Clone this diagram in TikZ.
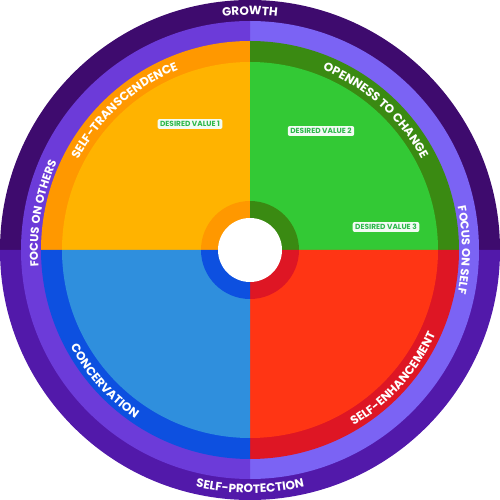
\documentclass[tikz,border=0pt]{standalone}
\usepackage{fontspec}
\setmainfont{Poppins}
\usepackage{tikz}
\usetikzlibrary{positioning,decorations.text}
\usepackage{xcolor}
\definecolor{growthPurple}{HTML}{3E0B6E}
\definecolor{protectPurple}{HTML}{5219AA}
\definecolor{othersViolet}{HTML}{6C3BD9}
\definecolor{selfViolet}{HTML}{7B63F4}
\definecolor{orangeRing}{HTML}{FF9800}
\definecolor{orangeFill}{HTML}{FFB300}
\definecolor{greenRing}{HTML}{3A8A12}
\definecolor{greenFill}{HTML}{33C935}
\definecolor{redRing}{HTML}{DE1624}
\definecolor{redFill}{HTML}{FF3514}
\definecolor{blueRing}{HTML}{0D50E0}
\definecolor{blueFill}{HTML}{2F8FDD}
\definecolor{valueGreen}{HTML}{2DB84B}

\begin{document}
\begin{tikzpicture}[
    x=1pt, y=1pt,
    arcText/.style={decorate, decoration={text along path, text align=center, text color=white,
        text={|\fontsize{12}{12}\selectfont\bfseries|#1}}},
    sideText/.style={decorate, decoration={text along path, text align=center, text color=white,
        text={|\fontsize{11.5}{11.5}\selectfont\bfseries|#1}}},
    valueTag/.style={rectangle, rounded corners=2pt, fill=white!94!valueGreen, text=valueGreen,
        font=\fontsize{7.4}{7.4}\selectfont\bfseries, inner xsep=2.5pt, inner ysep=2.2pt}
]
    \useasboundingbox (-250,-250) rectangle (250,250);

    % outer bands
    \fill[growthPurple]  (0,0) -- (0:250pt)   arc[start angle=0,   end angle=180, radius=250pt] -- cycle;
    \fill[protectPurple] (0,0) -- (180:250pt) arc[start angle=180, end angle=360, radius=250pt] -- cycle;
    \fill[selfViolet]    (0,0) -- (-90:229pt) arc[start angle=-90, end angle=90,  radius=229pt] -- cycle;
    \fill[othersViolet]  (0,0) -- (90:229pt)  arc[start angle=90,  end angle=270, radius=229pt] -- cycle;

    % quadrants
    \fill[orangeRing] (0,0) -- (90:209pt)  arc[start angle=90,  end angle=180, radius=209pt] -- cycle;
    \fill[greenRing]  (0,0) -- (0:209pt)   arc[start angle=0,   end angle=90,  radius=209pt] -- cycle;
    \fill[redRing]    (0,0) -- (270:209pt) arc[start angle=270, end angle=360, radius=209pt] -- cycle;
    \fill[blueRing]   (0,0) -- (180:209pt) arc[start angle=180, end angle=270, radius=209pt] -- cycle;

    \fill[orangeFill] (0,0) -- (90:188pt)  arc[start angle=90,  end angle=180, radius=188pt] -- cycle;
    \fill[greenFill]  (0,0) -- (0:188pt)   arc[start angle=0,   end angle=90,  radius=188pt] -- cycle;
    \fill[redFill]    (0,0) -- (270:188pt) arc[start angle=270, end angle=360, radius=188pt] -- cycle;
    \fill[blueFill]   (0,0) -- (180:188pt) arc[start angle=180, end angle=270, radius=188pt] -- cycle;

    % hub
    \fill[orangeRing] (0,0) -- (90:49pt)  arc[start angle=90,  end angle=180, radius=49pt] -- cycle;
    \fill[greenRing]  (0,0) -- (0:49pt)   arc[start angle=0,   end angle=90,  radius=49pt] -- cycle;
    \fill[redRing]    (0,0) -- (270:49pt) arc[start angle=270, end angle=360, radius=49pt] -- cycle;
    \fill[blueRing]   (0,0) -- (180:49pt) arc[start angle=180, end angle=270, radius=49pt] -- cycle;
    \fill[white] (0,0) circle[radius=32pt];

    % band labels
    \path[arcText=GROWTH]          (120:235pt) arc[start angle=120, end angle=60,  radius=235pt];
    \path[arcText=SELF-PROTECTION] (235:243pt) arc[start angle=235, end angle=305, radius=243pt];
    \path[sideText=FOCUS ON OTHERS] (205:212pt) arc[start angle=205, end angle=135, radius=212pt];
    \path[sideText=FOCUS ON SELF]   (35:212pt)  arc[start angle=35,  end angle=-35, radius=212pt];

    % quadrant labels
    \path[arcText=SELF-TRANSCENDENCE] (177:194pt) arc[start angle=177, end angle=87,  radius=194pt];
    \path[arcText=OPENNESS TO CHANGE] (93:194pt)  arc[start angle=93,  end angle=3,   radius=194pt];
    \path[arcText=CONCERVATION]       (177:204pt) arc[start angle=177, end angle=267, radius=204pt];
    \path[arcText=SELF-ENHANCEMENT]   (273:204pt) arc[start angle=273, end angle=363, radius=204pt];

    \node[valueTag] (dv1) at (-60,126) {DESIRED VALUE 1};
    \node[valueTag] (dv2) at (71,119)  {DESIRED VALUE 2};
    \node[valueTag] (dv3) at (136,23)  {DESIRED VALUE 3};
\end{tikzpicture}
\end{document}
